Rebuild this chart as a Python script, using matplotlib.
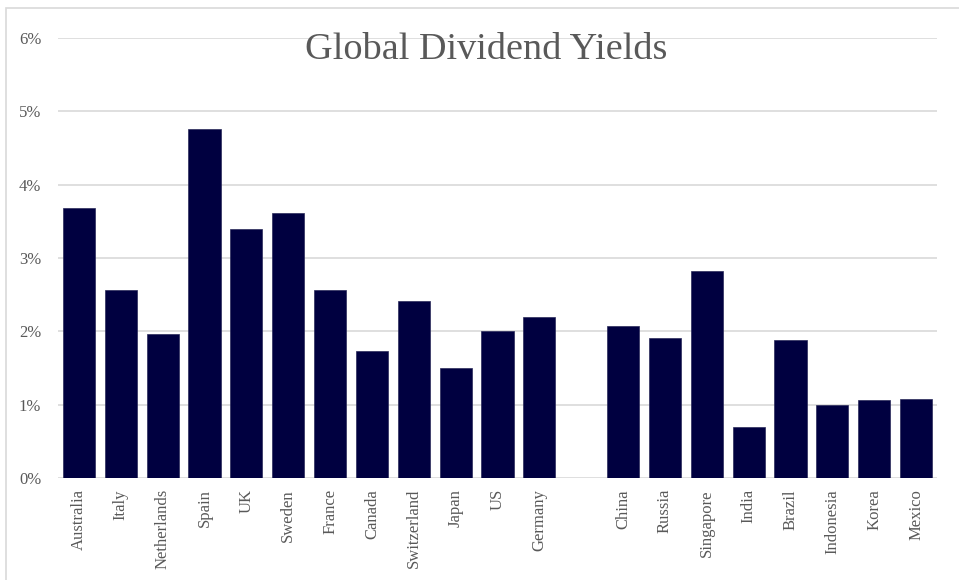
import numpy as np
import matplotlib
matplotlib.use("Agg")
import matplotlib.pyplot as plt
from matplotlib.patches import Rectangle

# Dividend yields (%)
developed = ["Australia", "Italy", "Netherlands", "Spain", "UK", "Sweden",
             "France", "Canada", "Switzerland", "Japan", "US", "Germany"]
developed_yield = [3.68, 2.57, 1.96, 4.76, 3.39, 3.62, 2.56, 1.73, 2.41, 1.50, 2.00, 2.19]

emerging = ["China", "Russia", "Singapore", "India", "Brazil", "Indonesia", "Korea", "Mexico"]
emerging_yield = [2.07, 1.91, 2.82, 0.69, 1.88, 1.00, 1.06, 1.08]

BAR = "#000040"
GRID = "#d9d9d9"
TEXT = "#595959"
plt.rcParams["font.family"] = ["Liberation Serif", "DejaVu Serif"]

# one empty slot between the two groups
x_dev = np.arange(len(developed))
x_em = np.arange(len(emerging)) + len(developed) + 1
labels = developed + emerging
xs = np.concatenate([x_dev, x_em])
ys = np.array(developed_yield + emerging_yield) / 100

fig = plt.figure(figsize=(9.59, 5.80), dpi=100)
ax = fig.add_axes([58 / 959, 1 - 478 / 580, (937 - 58) / 959, (478 - 38) / 580])

ax.bar(xs, ys, width=0.77, color=BAR, edgecolor="#2a2a5a", linewidth=0.5, zorder=3)

ax.set_xlim(-0.5, xs[-1] + 0.5)
ax.set_ylim(0, 0.06)
ax.set_yticks(np.arange(0, 0.061, 0.01))
ax.set_yticklabels([f"{int(round(v * 100))}%" for v in ax.get_yticks()])
ax.set_xticks(xs)
ax.set_xticklabels(labels, rotation=90)
ax.grid(axis="y", color=GRID, linewidth=1.2, zorder=0)
for s in ax.spines.values():
    s.set_visible(False)
ax.tick_params(axis="both", length=0, colors=TEXT, labelsize=12)
ax.tick_params(axis="x", pad=8)
ax.tick_params(axis="y", pad=12)

fig.text(486 / 959, 1 - 50 / 580, "Global Dividend Yields", ha="center", va="center",
         fontsize=27.5, color=TEXT)

# outer chart frame (only its top and left edges show in the crop)
fig.patches.append(Rectangle((6 / 959, -0.1), 1.1, 1 - 8 / 580 + 0.1,
                             transform=fig.transFigure, fill=False,
                             edgecolor=GRID, linewidth=1.2))

fig.savefig("out.png", dpi=100)
